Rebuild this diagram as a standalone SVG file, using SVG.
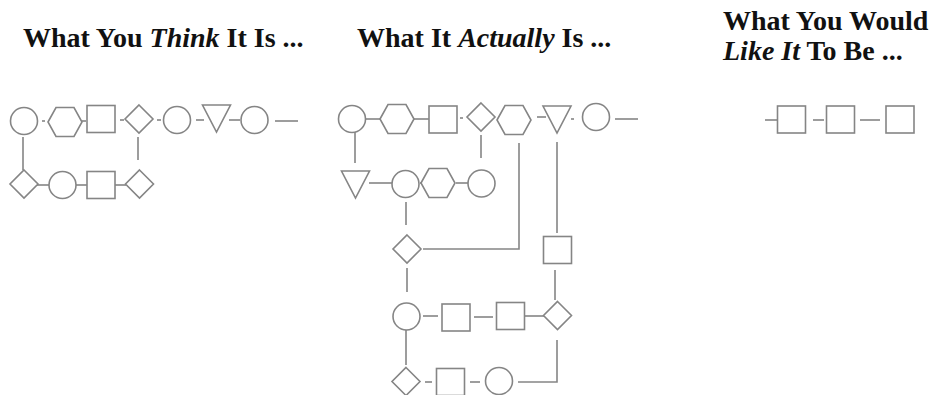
<svg xmlns="http://www.w3.org/2000/svg" xmlns:xlink="http://www.w3.org/1999/xlink" width="934" height="395" viewBox="0 0 934 395">
  <style>
    .title { font-family: "Liberation Serif", "Times New Roman", serif; font-weight: bold; font-size: 28px; fill: #111; }
    .title tspan.em { font-style: italic; }
    .shape { fill: #fff; stroke: #858585; stroke-width: 1.6; }
    .link { fill: none; stroke: #858585; stroke-width: 1.6; }
  </style>
  <defs>
    <circle id="circ" cx="0" cy="0" r="13.5" class="shape"/>
    <rect id="sq" x="-14" y="-13.5" width="28" height="27" class="shape"/>
    <polygon id="dia" points="0,-14 14,0 0,14 -14,0" class="shape"/>
    <polygon id="hex" points="-17,0 -9,-14.5 9,-14.5 17,0 9,14.5 -9,14.5" class="shape"/>
    <polygon id="tri" points="-14,-13.5 14,-13.5 0,13.5" class="shape"/>
  </defs>

  <!-- headings -->
  <text class="title" x="23" y="47">What You <tspan class="em">Think</tspan> It Is ...</text>
  <text class="title" x="357" y="47">What It <tspan class="em">Actually</tspan> Is ...</text>
  <text class="title" x="723" y="30">What You Would</text>
  <text class="title" x="723" y="60"><tspan class="em">Like It</tspan> To Be ...</text>

  <!-- connectors -->
  <g id="connectors" class="link">
    <!-- first process -->
    <line x1="42" y1="121" x2="45" y2="121"/>
    <line x1="82" y1="121" x2="86" y2="121"/>
    <line x1="120" y1="120" x2="124" y2="120"/>
    <line x1="157" y1="120" x2="161" y2="120"/>
    <line x1="196" y1="120" x2="204" y2="120"/>
    <line x1="229" y1="120" x2="240" y2="120"/>
    <line x1="275" y1="121" x2="298" y2="121"/>
    <line x1="23" y1="137" x2="23" y2="170"/>
    <line x1="138" y1="137" x2="138" y2="160"/>
    <line x1="37" y1="185" x2="49" y2="185"/>
    <line x1="76" y1="185" x2="87" y2="185"/>
    <line x1="115" y1="185" x2="126" y2="185"/>

    <!-- second process -->
    <line x1="366" y1="119" x2="381" y2="119"/>
    <line x1="413" y1="119" x2="429" y2="119"/>
    <line x1="460" y1="118" x2="463" y2="118"/>
    <line x1="537" y1="117" x2="546" y2="117"/>
    <line x1="571" y1="119" x2="574" y2="119"/>
    <line x1="615" y1="119" x2="638" y2="119"/>
    <line x1="355" y1="129" x2="355" y2="163"/>
    <line x1="481" y1="135" x2="481" y2="158"/>
    <polyline points="519,143 519,249 423,249"/>
    <line x1="557" y1="142" x2="557" y2="233"/>
    <line x1="369" y1="183" x2="392" y2="183"/>
    <line x1="420" y1="183" x2="428" y2="183"/>
    <line x1="456" y1="183" x2="468" y2="183"/>
    <line x1="406" y1="202" x2="406" y2="225"/>
    <line x1="407" y1="268" x2="407" y2="292"/>
    <line x1="555" y1="270" x2="555" y2="300"/>
    <line x1="423" y1="316" x2="438" y2="316"/>
    <line x1="474" y1="317" x2="493" y2="317"/>
    <line x1="524" y1="316" x2="545" y2="316"/>
    <line x1="406" y1="330" x2="406" y2="365"/>
    <line x1="425" y1="382" x2="432" y2="382"/>
    <line x1="470" y1="382" x2="480" y2="382"/>
    <polyline points="518,382 557,382 557,340"/>

    <!-- desired process -->
    <line x1="765" y1="120" x2="778" y2="120"/>
    <line x1="813" y1="120" x2="824" y2="120"/>
    <line x1="860" y1="120" x2="880" y2="120"/>
  </g>

  <!-- first process nodes -->
  <g id="think-1"><use xlink:href="#circ" x="24" y="121"/></g>
  <g id="think-2"><use xlink:href="#hex" x="65" y="122"/></g>
  <g id="think-3"><use xlink:href="#sq" x="101" y="119"/></g>
  <g id="think-4"><use xlink:href="#dia" x="139" y="119"/></g>
  <g id="think-5"><use xlink:href="#circ" x="177" y="120"/></g>
  <g id="think-6"><use xlink:href="#tri" x="216.5" y="118.5"/></g>
  <g id="think-7"><use xlink:href="#circ" x="254.5" y="120"/></g>
  <g id="think-8"><use xlink:href="#dia" x="24" y="184"/></g>
  <g id="think-9"><use xlink:href="#circ" x="62.5" y="185"/></g>
  <g id="think-10"><use xlink:href="#sq" x="101" y="185"/></g>
  <g id="think-11"><use xlink:href="#dia" x="139.5" y="184"/></g>

  <!-- second process nodes -->
  <g id="actual-1"><use xlink:href="#circ" x="352" y="119"/></g>
  <g id="actual-2"><use xlink:href="#hex" x="397" y="119"/></g>
  <g id="actual-3"><use xlink:href="#sq" x="443" y="119.5"/></g>
  <g id="actual-4"><use xlink:href="#dia" x="481" y="117"/></g>
  <g id="actual-5"><use xlink:href="#hex" x="514" y="120"/></g>
  <g id="actual-6"><use xlink:href="#tri" x="557" y="119.5"/></g>
  <g id="actual-7"><use xlink:href="#circ" x="596" y="117"/></g>
  <g id="actual-8"><use xlink:href="#tri" x="355.5" y="184.5"/></g>
  <g id="actual-9"><use xlink:href="#circ" x="405.5" y="184"/></g>
  <g id="actual-10"><use xlink:href="#hex" x="438" y="183"/></g>
  <g id="actual-11"><use xlink:href="#circ" x="481.5" y="183.5"/></g>
  <g id="actual-12"><use xlink:href="#dia" x="407" y="249"/></g>
  <g id="actual-13"><use xlink:href="#sq" x="557.5" y="250"/></g>
  <g id="actual-14"><use xlink:href="#circ" x="406.5" y="316.5"/></g>
  <g id="actual-15"><use xlink:href="#sq" x="456" y="317.5"/></g>
  <g id="actual-16"><use xlink:href="#sq" x="510.5" y="316"/></g>
  <g id="actual-17"><use xlink:href="#dia" x="557.5" y="315.5"/></g>
  <g id="actual-18"><use xlink:href="#dia" x="406" y="381.5"/></g>
  <g id="actual-19"><use xlink:href="#sq" x="450.5" y="382"/></g>
  <g id="actual-20"><use xlink:href="#circ" x="499" y="381"/></g>

  <!-- desired process nodes -->
  <g id="ideal-1"><use xlink:href="#sq" x="791.5" y="119.5"/></g>
  <g id="ideal-2"><use xlink:href="#sq" x="840.5" y="119.5"/></g>
  <g id="ideal-3"><use xlink:href="#sq" x="900" y="119.5"/></g>
</svg>
